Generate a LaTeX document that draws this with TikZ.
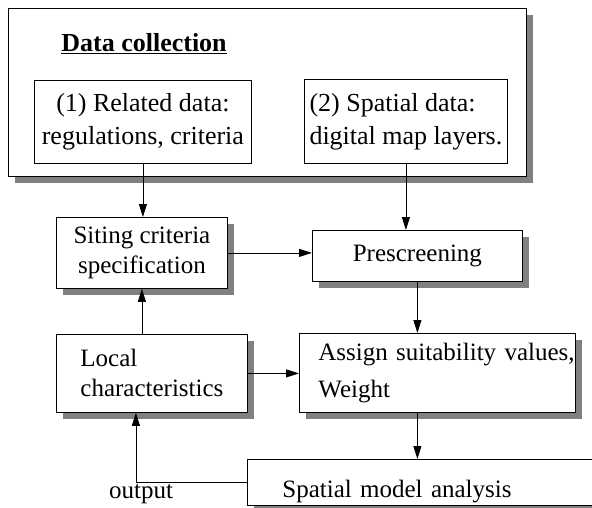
\documentclass[tikz,border=0pt]{standalone}
\usepackage{fontspec}
\setmainfont{Liberation Serif}
\usetikzlibrary{arrows.meta,positioning,shadows,calc}

\begin{document}
\begin{tikzpicture}[
  x=1pt, y=-1pt,
  font=\fontsize{25}{30}\selectfont,
  box/.style={
    draw, line width=0.8pt, fill=white, inner sep=0pt, anchor=north west},
  shbox/.style={
    box, drop shadow={shadow xshift=7pt, shadow yshift=-7pt,
      fill=black!50, opacity=1}},
  databox/.style={box, font=\fontsize{26}{33}\selectfont},
  arr/.style={-{Triangle[length=13pt,width=8pt]}, line width=0.8pt}
]
\useasboundingbox (0,0) rectangle (592,508);

\node[shbox, minimum width=518pt, minimum height=168pt] (collect) at (8,8) {};
\node[font=\fontsize{26}{30}\selectfont\bfseries] (title) at (144,44)
  {\underline{Data collection}};

\node[databox, minimum width=217pt, minimum height=83pt, align=center] (related)
  at (34,80) {(1) Related data:\\regulations, criteria};
\node[databox, minimum width=203pt, minimum height=84pt, align=left] (spatial)
  at (304,79) {(2) Spatial data:\\digital map layers.};

\node[shbox, minimum width=171pt, minimum height=71pt, align=center] (siting)
  at (56,217) {Siting criteria\\specification};
\node[shbox, minimum width=210pt, minimum height=51pt] (prescreen)
  at (312,230) {Prescreening};
\node[shbox, minimum width=191pt, minimum height=78pt, align=left] (local)
  at (56,334) {Local\\characteristics};
\node[shbox, text width=238pt, inner xsep=19pt, minimum height=79pt, align=left] (assign)
  at (299,333) {\mbox{Assign suitability values,}\\[7pt]Weight};
\node[shbox, text width=325pt, inner xsep=35pt, text height=38pt, text depth=8pt,
  align=left] (model) at (247,459) {Spatial model analysis};

\node (outlbl) at (141,494) {output};

\foreach \a/\b in {related/siting, spatial/prescreen, prescreen/assign}
  \draw[arr] (\a.south) -- (\a.south |- \b.north);
\draw[arr] (prescreen.south |- assign.south) -- (prescreen.south |- model.north);
\draw[arr] (siting.east) -- (siting.east -| prescreen.west);
\draw[arr] (local.north -| siting.south) -- (siting.south);
\draw[arr] (local.east) -- (local.east -| assign.west);

\coordinate[left=16pt of local.south] (back);
\draw[arr] (model.west) -| (back);

\end{tikzpicture}
\end{document}
